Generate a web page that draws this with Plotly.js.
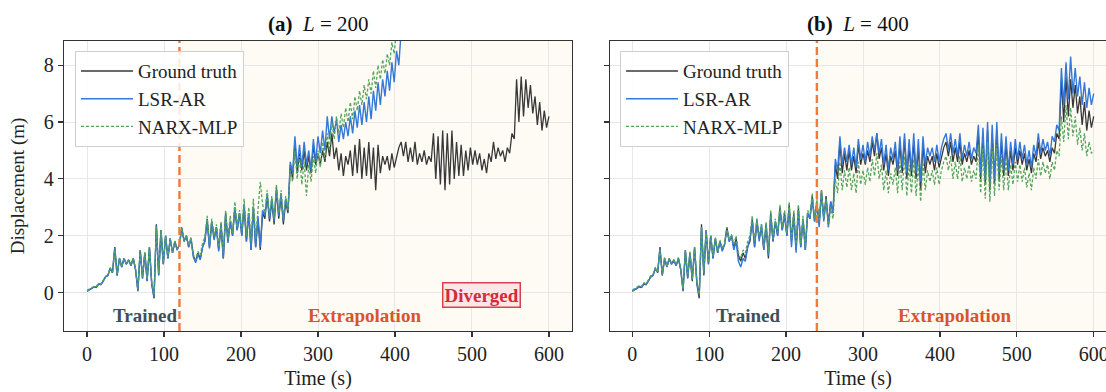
<!DOCTYPE html>
<html>
<head>
<meta charset="utf-8">
<script src="https://cdn.plot.ly/plotly-3.0.1.min.js"></script>
<style>html,body{margin:0;padding:0;background:#fff;}#chart{width:1106px;height:392px;}</style>
</head>
<body>
<div id="chart"></div>
<script>
const STEP = 3;

// Ground truth displacement (m), t = 0..600 s
const groundTruth = [
  0.05,0.1,0.15,0.2,0.18,0.3,0.28,0.4,0.55,0.6,
  0.85,0.7,1.6,0.6,1.2,0.9,1.2,1.0,1.15,0.95,
  1.2,0.8,0.05,1.5,0.5,1.4,0.4,1.6,0.3,-0.2,
  2.4,0.6,2.2,1.0,2.0,1.2,1.9,1.4,1.8,1.5,
  1.7,2.3,1.8,2.0,1.6,1.9,1.3,1.1,1.4,1.2,
  1.6,1.8,2.6,1.6,2.5,1.9,2.3,1.5,2.4,1.2,
  2.8,1.8,2.5,2.0,3.0,2.2,2.8,2.0,3.1,1.8,
  2.8,1.5,3.0,1.6,2.6,1.5,2.8,2.6,3.4,2.5,
  3.2,2.4,3.6,2.6,3.4,2.4,3.2,2.8,4.5,4.0,
  5.3,4.2,4.9,4.3,5.0,4.3,4.8,4.2,5.2,4.5,
  4.9,4.5,5.0,4.6,5.3,4.8,5.6,4.7,5.1,4.3,
  4.9,4.1,4.8,4.5,5.0,4.1,5.2,4.2,5.4,4.0,
  5.1,4.1,5.3,4.0,5.1,3.6,5.2,4.2,4.8,4.5,
  4.8,4.3,4.9,4.4,4.8,5.1,5.3,4.8,5.3,4.6,
  5.1,4.6,5.3,4.5,4.9,4.6,5.0,4.5,4.8,4.6,
  5.6,4.0,5.5,3.8,5.7,3.6,5.6,3.8,5.7,4.0,
  5.3,4.1,5.2,4.1,5.0,4.3,5.1,4.5,5.0,4.5,
  4.9,4.3,4.7,4.2,4.9,4.6,5.3,4.7,5.1,4.8,
  5.0,4.6,5.1,4.9,5.6,5.4,7.5,6.0,7.6,6.2,
  7.5,6.5,7.3,6.3,6.9,5.9,6.7,5.7,6.4,5.8,
  6.2
];

// (a) L = 200 : LSR-AR prediction (diverges, leaves the axes ~405 s)
const lsrA = [
  0.05,0.1,0.16,0.2,0.2,0.3,0.3,0.4,0.56,0.6,
  0.86,0.7,1.58,0.6,1.2,0.9,1.2,1.0,1.15,0.95,
  1.2,0.8,0.08,1.48,0.5,1.4,0.42,1.58,0.3,-0.15,
  2.35,0.62,2.2,1.0,2.0,1.2,1.9,1.4,1.8,1.5,
  1.7,2.25,1.8,2.0,1.6,1.9,1.25,1.05,1.35,1.15,
  1.6,1.8,2.55,1.55,2.5,1.85,2.3,1.45,2.4,1.2,
  2.75,1.75,2.5,2.0,3.0,2.2,2.8,2.0,3.1,1.8,
  2.8,1.5,3.0,1.6,2.7,1.6,2.9,2.7,3.5,2.6,
  3.3,2.5,3.7,2.7,3.5,2.5,3.3,2.9,4.6,4.2,
  5.5,4.4,5.2,4.4,5.3,4.5,5.0,4.3,5.4,4.6,
  5.5,4.9,5.7,5.0,6.2,5.4,6.2,5.6,6.1,5.3,
  5.9,5.4,6.0,5.5,6.2,5.6,6.4,5.8,6.6,5.9,
  6.7,6.0,6.9,6.1,7.1,6.4,7.4,6.6,7.5,6.9,
  7.8,7.1,8.1,7.4,8.5,8.0,9.2,9.5
];

// (a) L = 200 : NARX-MLP prediction
const narxA = [
  0.08,0.12,0.18,0.22,0.22,0.33,0.3,0.43,0.58,0.63,
  0.88,0.72,1.52,0.64,1.22,0.92,1.2,1.02,1.15,0.98,
  1.22,0.84,0.12,1.5,0.56,1.42,0.48,1.6,0.36,-0.08,
  2.3,0.7,2.2,1.05,2.0,1.25,1.92,1.42,1.82,1.52,
  1.72,2.3,1.82,2.02,1.65,1.95,1.35,1.15,1.45,1.3,
  1.75,1.95,2.7,1.75,2.6,2.0,2.4,1.6,2.5,1.4,
  2.9,1.9,2.7,2.1,3.2,2.3,2.9,2.2,3.3,2.0,
  3.0,1.8,3.3,1.9,3.0,3.9,3.1,2.8,3.6,2.7,
  3.4,2.6,3.8,2.8,3.6,2.6,3.4,2.9,4.3,3.9,
  5.0,4.0,4.8,3.8,4.6,3.4,4.5,3.9,4.8,4.2,
  5.0,4.4,5.3,4.7,5.6,5.0,6.0,5.4,6.2,5.6,
  6.3,5.8,6.5,6.0,6.7,6.1,6.9,6.4,7.1,6.6,
  7.3,6.8,7.5,7.0,7.8,7.2,8.0,7.5,8.2,7.7,
  8.4,8.0,8.8,8.4,9.2,9.5
];

// (b) L = 400 : LSR-AR prediction
const lsrB = [
  0.05,0.12,0.15,0.22,0.2,0.32,0.3,0.42,0.55,0.62,
  0.85,0.72,1.55,0.62,1.2,0.92,1.18,1.0,1.12,0.95,
  1.2,0.82,0.1,1.45,0.52,1.4,0.45,1.55,0.35,-0.1,
  2.3,0.65,2.2,1.0,2.0,1.2,1.9,1.4,1.8,1.45,
  1.7,2.2,1.8,2.0,1.5,1.8,1.1,0.9,1.2,1.1,
  1.6,1.9,2.5,1.6,2.6,1.8,2.4,1.5,2.4,1.3,
  2.7,1.8,2.5,2.0,2.9,2.2,2.7,2.0,3.0,1.6,
  2.7,1.4,2.9,1.6,2.6,1.5,2.8,2.6,3.3,2.5,
  3.1,2.3,3.5,2.5,3.3,2.3,3.2,2.8,4.7,4.3,
  5.5,4.5,5.1,4.6,5.2,4.5,5.1,4.4,5.4,4.7,
  5.2,4.6,5.3,4.8,5.5,5.0,5.6,4.9,5.4,4.5,
  5.2,4.3,5.1,4.7,5.3,4.3,5.5,4.4,5.6,4.2,
  5.4,4.3,5.6,4.2,5.4,3.9,5.5,4.5,5.1,4.8,
  5.1,4.6,5.2,4.6,5.1,5.4,5.6,5.0,5.6,4.9,
  5.4,4.8,5.6,4.7,5.2,4.8,5.3,4.7,5.1,4.9,
  5.9,4.2,5.8,4.0,6.0,3.8,5.9,4.0,6.0,4.2,
  5.6,4.3,5.5,4.3,5.3,4.5,5.4,4.7,5.3,4.7,
  5.2,4.5,5.0,4.4,5.2,4.8,5.6,4.9,5.4,5.0,
  5.3,4.8,5.5,5.3,5.9,5.7,7.9,6.6,8.1,6.8,
  8.3,7.0,7.9,6.9,7.6,6.6,7.4,6.5,7.2,6.6,
  7.0
];

// (b) L = 400 : NARX-MLP prediction
const narxB = [
  0.08,0.14,0.2,0.25,0.22,0.35,0.3,0.45,0.6,0.65,
  0.9,0.7,1.5,0.65,1.25,0.9,1.2,1.05,1.15,1.0,
  1.25,0.85,0.15,1.5,0.6,1.45,0.5,1.6,0.4,-0.05,
  2.3,0.75,2.2,1.05,2.0,1.3,1.95,1.45,1.85,1.55,
  1.75,2.3,1.85,2.05,1.7,2.0,1.4,1.2,1.5,1.4,
  1.8,2.0,2.7,1.8,2.6,2.0,2.4,1.6,2.5,1.4,
  2.9,1.9,2.6,2.1,3.1,2.3,2.9,2.1,3.2,1.9,
  2.9,1.7,3.1,1.7,2.7,1.6,2.9,2.7,3.5,2.6,
  3.3,2.5,3.6,2.6,3.3,2.3,3.0,2.6,4.0,3.5,
  4.6,3.6,4.3,3.7,4.4,3.6,4.2,3.5,4.6,3.8,
  4.3,3.8,4.4,3.9,4.7,4.1,4.9,4.0,4.5,3.6,
  4.3,3.5,4.2,3.8,4.4,3.5,4.6,3.6,4.8,3.4,
  4.5,3.5,4.7,3.4,4.5,3.2,4.6,3.6,4.3,3.9,
  4.3,3.8,4.4,3.8,4.3,4.6,4.8,4.3,4.8,4.0,
  4.6,4.0,4.8,3.9,4.4,4.0,4.5,3.9,4.3,4.0,
  5.2,3.5,5.1,3.3,5.3,3.2,5.1,3.4,5.2,3.6,
  4.8,3.6,4.7,3.6,4.5,3.8,4.6,3.9,4.5,3.9,
  4.4,3.7,4.2,3.6,4.4,4.0,4.7,4.1,4.6,4.2,
  4.5,4.0,4.6,4.3,5.0,4.8,6.2,5.3,6.6,5.4,
  6.5,5.5,6.2,5.2,5.8,5.0,5.6,4.8,5.3,4.9,
  5.0
];

// End of the training window for each panel (s)
const trainEnd = [120, 240];
const seriesNames = ['Ground truth', 'LSR-AR', 'NARX-MLP'];
const panelTitles = ['<b>(a)</b>  <i>L</i> = 200', '<b>(b)</b>  <i>L</i> = 400'];

const times = arr => arr.map((_, i) => i * STEP);

const FONT = "'Liberation Serif', 'Times New Roman', serif";
const C_GT = '#383838', C_LSR = '#3478d8', C_NARX = '#55a55a';

function panelTraces(gt, lsr, narx, xa, ya, leg) {
  return [
    {x: times(gt), y: gt, xaxis: xa, yaxis: ya, mode: 'lines', name: seriesNames[0],
     line: {color: C_GT, width: 1.3}, legend: leg, legendgroup: leg + 'g'},
    {x: times(lsr), y: lsr, xaxis: xa, yaxis: ya, mode: 'lines', name: seriesNames[1],
     line: {color: C_LSR, width: 1.4}, legend: leg, legendgroup: leg + 'l'},
    {x: times(narx), y: narx, xaxis: xa, yaxis: ya, mode: 'lines', name: seriesNames[2],
     line: {color: C_NARX, width: 1.3, dash: '3px,2px'}, legend: leg, legendgroup: leg + 'n'}
  ];
}

const data = [
  ...panelTraces(groundTruth, lsrA, narxA, 'x', 'y', 'legend'),
  ...panelTraces(groundTruth, lsrB, narxB, 'x2', 'y2', 'legend2')
];

const W = 1106;
const axCommon = {
  showline: true, linecolor: '#333', linewidth: 1.3,
  ticks: 'outside', ticklen: 5, tickwidth: 1.2, tickcolor: '#333',
  showgrid: true, gridcolor: '#e7e7e7', gridwidth: 1, zeroline: false,
  tickfont: {family: FONT, size: 20, color: '#222'}
};

const legendCommon = {
  font: {family: FONT, size: 19, color: '#222'},
  bgcolor: 'rgba(255,255,255,0.85)', bordercolor: '#cfcfcf', borderwidth: 1,
  tracegroupgap: 0, traceorder: 'grouped', itemwidth: 52,
  xanchor: 'left', yanchor: 'top', y: 0.965
};

const layout = {
  width: 1106, height: 392,
  margin: {l: 0, r: 0, t: 41, b: 61},
  paper_bgcolor: '#fff', plot_bgcolor: '#fff',
  font: {family: FONT, color: '#222'},
  showlegend: true,
  xaxis: Object.assign({}, axCommon, {domain: [64 / W, 572 / W], range: [-30, 630], dtick: 100, tick0: 0, mirror: true,
    title: {text: 'Time (s)', font: {family: FONT, size: 20, color: '#222'}, standoff: 6}}),
  yaxis: Object.assign({}, axCommon, {domain: [0, 1], range: [-1.35, 8.85], dtick: 2, tick0: 0, mirror: true,
    title: {text: 'Displacement (m)', font: {family: FONT, size: 19, color: '#222'}, standoff: 14}}),
  xaxis2: Object.assign({}, axCommon, {domain: [610 / W, 1], range: [-29, 616], dtick: 100, tick0: 0, mirror: true, anchor: 'y2',
    ticklabeloverflow: 'allow',
    title: {text: 'Time (s)', font: {family: FONT, size: 20, color: '#222'}, standoff: 6}}),
  yaxis2: Object.assign({}, axCommon, {domain: [0, 1], range: [-1.35, 8.85], dtick: 2, tick0: 0, mirror: false, anchor: 'x2',
    showticklabels: false}),
  legend: Object.assign({}, legendCommon, {x: 75 / W}),
  legend2: Object.assign({}, legendCommon, {x: 620 / W}),
  shapes: [],
  annotations: []
};

['x', 'x2'].forEach((xa, k) => {
  const ya = k === 0 ? 'y' : 'y2';
  layout.shapes.push({type: 'rect', xref: xa, yref: ya + ' domain', x0: trainEnd[k], x1: 700, y0: 0, y1: 1,
    fillcolor: '#fefbf4', line: {width: 0}, layer: 'below'});
  layout.shapes.push({type: 'line', xref: xa, yref: ya + ' domain', x0: trainEnd[k], x1: trainEnd[k], y0: 0, y1: 1,
    line: {color: '#f07a3a', width: 2.4, dash: '8px,4px'}, layer: 'above'});
  layout.annotations.push({xref: xa + ' domain', yref: 'paper', x: 0.5, y: 1, yshift: 3, yanchor: 'bottom',
    xanchor: 'center', showarrow: false, text: panelTitles[k], font: {family: FONT, size: 21, color: '#111'}});
});

// In-panel labels
layout.annotations.push(
  {xref: 'x', yref: 'y', x: 75, y: -0.8, text: '<b>Trained</b>', showarrow: false,
   font: {family: FONT, size: 19, color: '#3d4f5a'}},
  {xref: 'x', yref: 'y', x: 361, y: -0.8, text: '<b>Extrapolation</b>', showarrow: false,
   font: {family: FONT, size: 19, color: '#d9532b'}},
  {xref: 'x', yref: 'y', x: 513, y: -0.1, text: '<b>Diverged</b>', showarrow: false,
   font: {family: FONT, size: 19, color: '#d42a3a'}, bgcolor: '#fce6e8', bordercolor: '#d9404f',
   borderwidth: 1.5, borderpad: 1},
  {xref: 'x2', yref: 'y2', x: 151, y: -0.8, text: '<b>Trained</b>', showarrow: false,
   font: {family: FONT, size: 19, color: '#3d4f5a'}},
  {xref: 'x2', yref: 'y2', x: 419, y: -0.8, text: '<b>Extrapolation</b>', showarrow: false,
   font: {family: FONT, size: 19, color: '#d9532b'}}
);

Plotly.newPlot('chart', data, layout, {displayModeBar: false, staticPlot: true});
</script>
</body>
</html>
